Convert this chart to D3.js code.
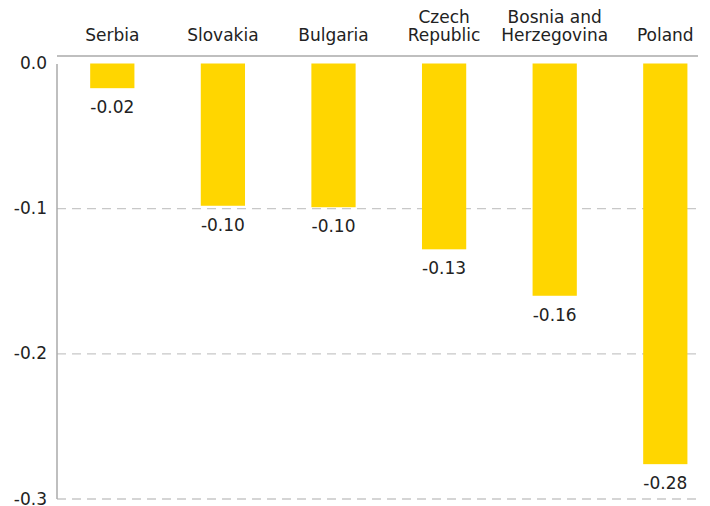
<!DOCTYPE html>
<html>
<head>
<meta charset="utf-8">
<script src="https://cdn.jsdelivr.net/npm/d3@7"></script>
<style>
  body { margin: 0; background: #fff; }
  svg { display: block; font-family: "DejaVu Sans", Verdana, sans-serif; }
</style>
</head>
<body>
<svg id="chart" width="710" height="506"></svg>
<script>
// --- data ---
const categories = ["Serbia", "Slovakia", "Bulgaria", "Czech Republic", "Bosnia and Herzegovina", "Poland"];
const categoryLines = [["Serbia"], ["Slovakia"], ["Bulgaria"], ["Czech", "Republic"], ["Bosnia and", "Herzegovina"], ["Poland"]];
const values = [-0.017, -0.098, -0.099, -0.128, -0.160, -0.276];
const yTicks = [0, -0.1, -0.2, -0.3];

const svg = d3.select("#chart");
const plotLeft = 57, plotRight = 698;

// hyphen instead of the unicode minus d3 uses
const fmt = p => d => d3.format("." + p + "f")(d).replace("\u2212", "-");

const x = d3.scaleBand()
    .domain(categories)
    .range([57, 720.6])
    .paddingInner(0.6)
    .paddingOuter(0.3);

const y = d3.scaleLinear()
    .domain([0, -0.3])
    .range([63.5, 499]);

// gridlines (dashed)
svg.append("g")
    .selectAll("line")
    .data(yTicks.filter(d => d !== 0))
    .join("line")
    .attr("x1", plotLeft)
    .attr("x2", plotRight)
    .attr("y1", d => y(d))
    .attr("y2", d => y(d))
    .attr("stroke", "#c8c8c8")
    .attr("stroke-width", 1.3)
    .attr("stroke-dasharray", "9,6");

// y axis labels
const yAxis = svg.append("g")
    .attr("transform", `translate(47,0)`)
    .call(d3.axisLeft(y).tickValues(yTicks).tickSize(0).tickPadding(0).tickFormat(fmt(1)));
yAxis.select(".domain").remove();
yAxis.selectAll("text")
    .attr("font-family", "DejaVu Sans, Verdana, sans-serif")
    .attr("font-size", 17)
    .attr("fill", "#222")
    .attr("dy", "0.3em");

// bars
svg.append("g")
    .selectAll("rect")
    .data(values)
    .join("rect")
    .attr("x", (d, i) => x(categories[i]))
    .attr("width", x.bandwidth())
    .attr("y", d => y(0))
    .attr("height", d => y(d) - y(0))
    .attr("fill", "#ffd600");

// value labels
svg.append("g")
    .selectAll("text")
    .data(values)
    .join("text")
    .attr("x", (d, i) => x(categories[i]) + x.bandwidth() / 2)
    .attr("y", d => y(d) + 25)
    .attr("text-anchor", "middle")
    .attr("font-size", 17)
    .attr("fill", "#222")
    .text(fmt(2));

// axis lines
svg.append("line")
    .attr("x1", plotLeft).attr("x2", plotRight)
    .attr("y1", 56).attr("y2", 56)
    .attr("stroke", "#aaa").attr("stroke-width", 1.5);
svg.append("line")
    .attr("x1", plotLeft).attr("x2", plotLeft)
    .attr("y1", 64).attr("y2", y(-0.3))
    .attr("stroke", "#aaa").attr("stroke-width", 1.5);

// category labels on top
const cat = svg.append("g")
    .selectAll("text")
    .data(categories)
    .join("text")
    .attr("text-anchor", "middle")
    .attr("font-size", 17)
    .attr("fill", "#222");
cat.each(function (d, i) {
    const lines = categoryLines[i];
    const cx = x(d) + x.bandwidth() / 2;
    d3.select(this).selectAll("tspan")
        .data(lines)
        .join("tspan")
        .attr("x", cx)
        .attr("y", (l, j) => 41 - (lines.length - 1 - j) * 18.5)
        .text(l => l);
});
</script>
</body>
</html>
